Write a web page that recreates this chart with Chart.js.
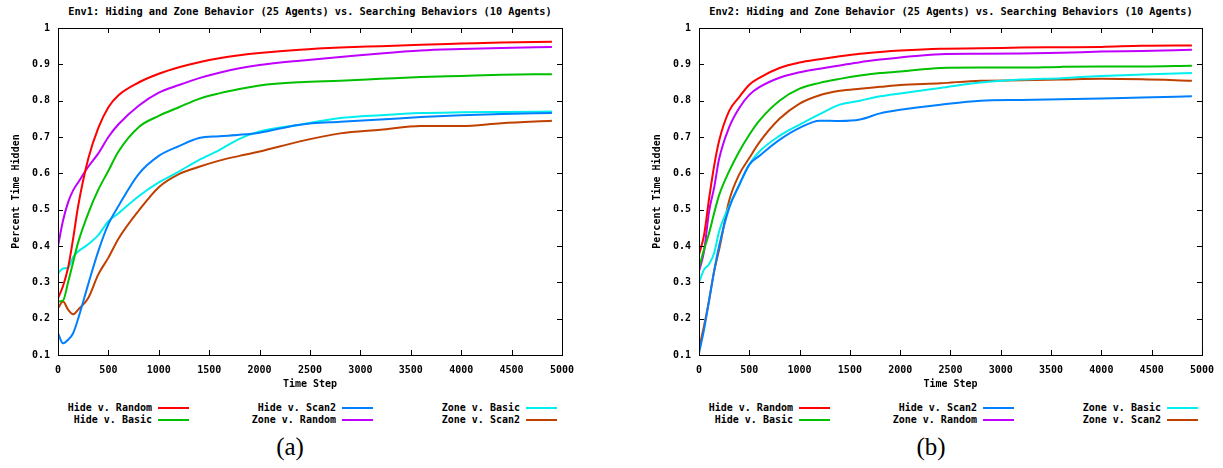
<!DOCTYPE html>
<html>
<head>
<meta charset="utf-8">
<script src="https://cdn.jsdelivr.net/npm/chart.js@4.4.1/dist/chart.umd.min.js"></script>
<style>
    body { margin: 0; width: 1223px; height: 468px; overflow: hidden; background: #fff; position: relative; }
    .panel { position: absolute; top: 0; height: 468px; }
    .panel canvas { position: absolute; left: 0; top: 0; }
    .mono { font-family: "DejaVu Sans Mono", monospace; font-weight: bold; font-size: 10px; color: #000; }
    .title { position: absolute; top: 5px; left: 58px; width: 504px; text-align: center; font-size: 10.3px; white-space: nowrap; }
    .key-text { position: absolute; text-align: right; width: 160px; white-space: nowrap; line-height: 12px; }
    .key-line { position: absolute; width: 31px; height: 2px; }
    .caption { position: absolute; top: 433px; left: 240px; width: 100px; text-align: center; font-family: "Liberation Serif", "DejaVu Serif", serif; font-size: 25px; color: #000; }
</style>
</head>
<body>

<div class="panel" id="panel-a" style="left:0; width:600px;">
    <div class="title mono">Env1: Hiding and Zone Behavior (25 Agents) vs. Searching Behaviors (10 Agents)</div>
    <canvas id="chartEnv1" width="600" height="395"></canvas>
    <div class="caption">(a)</div>
</div>

<div class="panel" id="panel-b" style="left:641px; width:582px;">
    <div class="title mono">Env2: Hiding and Zone Behavior (25 Agents) vs. Searching Behaviors (10 Agents)</div>
    <canvas id="chartEnv2" width="582" height="395"></canvas>
    <div class="caption">(b)</div>
</div>

<script>
// ==========================================
// DATA
// ==========================================
const timeSteps = [0, 50, 100, 150, 200, 300, 400, 500, 600, 800, 1000, 1200, 1400, 1600, 1800, 2000, 2400, 2800, 3200, 3600, 4000, 4400, 4900];

const seriesNames = ['Hide v. Random', 'Hide v. Basic', 'Hide v. Scan2', 'Zone v. Random', 'Zone v. Basic', 'Zone v. Scan2'];
const seriesColors = ['#ff0000', '#00c000', '#0080ff', '#c000ff', '#00eeee', '#c04000'];

// Env1
const env1HideRandom = [0.256, 0.29, 0.34, 0.42, 0.51, 0.64, 0.725, 0.782, 0.815, 0.85, 0.874, 0.892, 0.906, 0.917, 0.925, 0.931, 0.940, 0.946, 0.950, 0.954, 0.957, 0.960, 0.962];
const env1HideBasic  = [0.247, 0.25, 0.30, 0.355, 0.41, 0.49, 0.555, 0.607, 0.66, 0.727, 0.758, 0.782, 0.805, 0.82, 0.832, 0.842, 0.851, 0.855, 0.86, 0.865, 0.868, 0.871, 0.873];
const env1HideScan2  = [0.16, 0.132, 0.142, 0.16, 0.20, 0.295, 0.386, 0.46, 0.51, 0.598, 0.648, 0.675, 0.697, 0.702, 0.706, 0.712, 0.734, 0.742, 0.748, 0.755, 0.76, 0.763, 0.766];
const env1ZoneRandom = [0.40, 0.47, 0.52, 0.553, 0.575, 0.618, 0.655, 0.70, 0.735, 0.786, 0.822, 0.843, 0.862, 0.877, 0.889, 0.898, 0.910, 0.920, 0.930, 0.938, 0.942, 0.945, 0.948];
const env1ZoneBasic  = [0.325, 0.338, 0.34, 0.37, 0.385, 0.405, 0.43, 0.468, 0.49, 0.537, 0.575, 0.605, 0.637, 0.664, 0.695, 0.715, 0.734, 0.752, 0.760, 0.766, 0.768, 0.769, 0.770];
const env1ZoneScan2  = [0.229, 0.247, 0.225, 0.212, 0.225, 0.257, 0.322, 0.368, 0.42, 0.497, 0.562, 0.598, 0.618, 0.635, 0.648, 0.66, 0.688, 0.71, 0.72, 0.73, 0.73, 0.738, 0.745];

// Env2
const env2HideRandom = [0.376, 0.43, 0.53, 0.62, 0.69, 0.772, 0.81, 0.844, 0.863, 0.89, 0.905, 0.914, 0.922, 0.929, 0.934, 0.938, 0.943, 0.944, 0.946, 0.947, 0.948, 0.951, 0.952];
const env2HideBasic  = [0.34, 0.39, 0.435, 0.49, 0.54, 0.606, 0.66, 0.706, 0.745, 0.80, 0.833, 0.849, 0.86, 0.869, 0.876, 0.88, 0.89, 0.891, 0.891, 0.893, 0.894, 0.894, 0.896];
const env2HideScan2  = [0.105, 0.17, 0.25, 0.33, 0.40, 0.505, 0.568, 0.624, 0.648, 0.692, 0.725, 0.745, 0.744, 0.748, 0.765, 0.775, 0.789, 0.80, 0.802, 0.804, 0.806, 0.809, 0.812];
const env2ZoneRandom = [0.33, 0.385, 0.495, 0.56, 0.64, 0.727, 0.78, 0.816, 0.837, 0.863, 0.878, 0.888, 0.897, 0.906, 0.913, 0.919, 0.928, 0.929, 0.930, 0.932, 0.935, 0.937, 0.940];
const env2ZoneBasic  = [0.30, 0.335, 0.35, 0.38, 0.44, 0.51, 0.568, 0.624, 0.66, 0.703, 0.734, 0.763, 0.789, 0.80, 0.812, 0.82, 0.835, 0.85, 0.858, 0.862, 0.868, 0.872, 0.876];
const env2ZoneScan2  = [0.118, 0.18, 0.25, 0.33, 0.39, 0.525, 0.597, 0.642, 0.685, 0.75, 0.792, 0.815, 0.827, 0.833, 0.838, 0.843, 0.848, 0.855, 0.856, 0.858, 0.86, 0.859, 0.855];

// legend layout: right edge of text per column, row centers
const keyColumns = [152, 336, 520];
const keyRows = [408, 420];

Chart.defaults.color = '#000';
Chart.defaults.font.family = '"DejaVu Sans Mono", monospace';
Chart.defaults.font.size = 10;
Chart.defaults.font.weight = 'bold';

// ==========================================
// gnuplot-style frame with inward ticks
// ==========================================
const gnuplotFrame = {
    id: 'gnuplotFrame',
    afterDraw(chart) {
        const { ctx, chartArea: a, scales: { x, y } } = chart;
        const tl = 5;
        ctx.save();
        ctx.strokeStyle = '#000';
        ctx.lineWidth = 1;
        ctx.strokeRect(a.left + 0.5, a.top + 0.5, a.right - a.left, a.bottom - a.top);
        ctx.beginPath();
        x.ticks.forEach(t => {
            const px = Math.round(x.getPixelForValue(t.value)) + 0.5;
            ctx.moveTo(px, a.bottom); ctx.lineTo(px, a.bottom - tl);
            ctx.moveTo(px, a.top); ctx.lineTo(px, a.top + tl);
        });
        y.ticks.forEach(t => {
            const py = Math.round(y.getPixelForValue(t.value)) + 0.5;
            ctx.moveTo(a.left, py); ctx.lineTo(a.left + tl, py);
            ctx.moveTo(a.right, py); ctx.lineTo(a.right - tl, py);
        });
        ctx.stroke();
        ctx.restore();
    }
};

function buildChart(canvasId, seriesList, padRight) {
    const datasets = seriesList.map((vals, i) => ({
        label: seriesNames[i],
        data: timeSteps.map((t, j) => ({ x: t, y: vals[j] })),
        borderColor: seriesColors[i],
        backgroundColor: seriesColors[i],
        borderWidth: 2,
        pointRadius: 0,
        fill: false,
        cubicInterpolationMode: 'monotone'
    }));

    new Chart(document.getElementById(canvasId), {
        type: 'line',
        data: { datasets },
        options: {
            responsive: false,
            animation: false,
            layout: { padding: { top: 28, right: padRight, left: 0, bottom: 0 } },
            plugins: { legend: { display: false }, tooltip: { enabled: false } },
            scales: {
                x: {
                    type: 'linear', min: 0, max: 5000,
                    grid: { display: false, drawTicks: false }, border: { display: false },
                    ticks: { stepSize: 500, padding: 9, maxRotation: 0, autoSkip: false, callback: v => String(v) },
                    title: { display: true, text: 'Time Step', padding: { top: 0, bottom: 5 } },
                    afterFit: s => { s.height = 40; }
                },
                y: {
                    min: 0.1, max: 1,
                    grid: { display: false, drawTicks: false }, border: { display: false },
                    ticks: { stepSize: 0.1, padding: 8, callback: v => String(Math.round(v * 10) / 10) },
                    title: { display: true, text: 'Percent Time Hidden', padding: { top: 10, bottom: 0 } },
                    afterFit: s => { s.width = 58; }
                }
            }
        },
        plugins: [gnuplotFrame]
    });
}

function buildKey(panelId) {
    const panel = document.getElementById(panelId);
    seriesNames.forEach((name, i) => {
        const col = Math.floor(i / 2), row = i % 2;
        const txt = document.createElement('div');
        txt.className = 'key-text mono';
        txt.textContent = name;
        txt.style.left = (keyColumns[col] - 160) + 'px';
        txt.style.top = (keyRows[row] - 6) + 'px';
        panel.appendChild(txt);

        const ln = document.createElement('div');
        ln.className = 'key-line';
        ln.style.background = seriesColors[i];
        ln.style.left = (keyColumns[col] + 6) + 'px';
        ln.style.top = (keyRows[row] - 1) + 'px';
        panel.appendChild(ln);
    });
}

buildChart('chartEnv1', [env1HideRandom, env1HideBasic, env1HideScan2, env1ZoneRandom, env1ZoneBasic, env1ZoneScan2], 38);
buildChart('chartEnv2', [env2HideRandom, env2HideBasic, env2HideScan2, env2ZoneRandom, env2ZoneBasic, env2ZoneScan2], 20);
buildKey('panel-a');
buildKey('panel-b');
</script>
</body>
</html>
